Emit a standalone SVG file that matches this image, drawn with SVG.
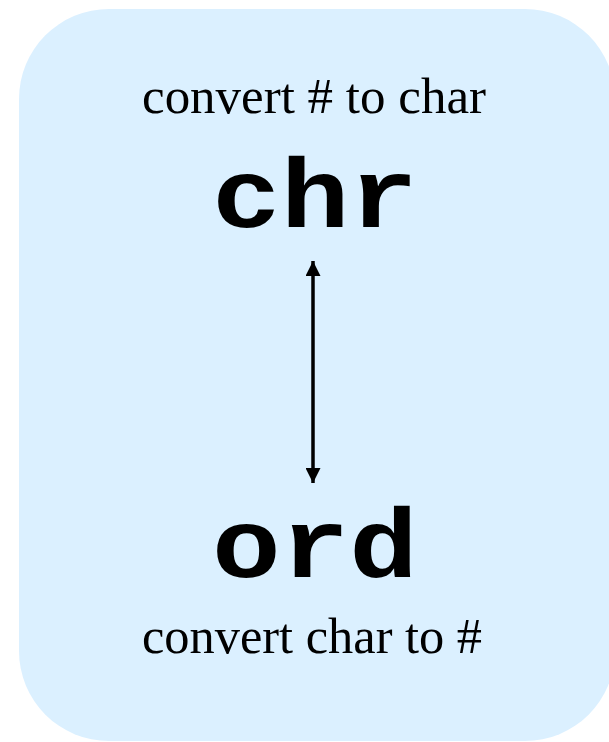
<svg xmlns="http://www.w3.org/2000/svg" width="609" height="742" viewBox="0 0 609 742">
<style>
.lbl{font-family:"Liberation Serif","Times New Roman",serif;font-size:50px;fill:#000;text-anchor:middle}
.code{font-family:"Liberation Mono","Courier New",monospace;font-weight:bold;font-size:98px;fill:#000;text-anchor:middle}
.conn{stroke:#000;stroke-width:3.5;fill:none}
</style>
<defs>
<marker id="ah" viewBox="0 0 10 10" refX="10" refY="5" markerWidth="15" markerHeight="15" markerUnits="userSpaceOnUse" orient="auto-start-reverse">
<path d="M0,0 L10,5 L0,10 Z" fill="#000"/>
</marker>
</defs>
<g id="panel">
<rect x="19" y="9" width="596" height="732" rx="90" ry="90" fill="#dbf0ff"/>
</g>
<g id="chr">
<text class="lbl" x="314" y="113" textLength="344" lengthAdjust="spacingAndGlyphs">convert # to char</text>
<text class="code" x="315" y="227" textLength="206" lengthAdjust="spacingAndGlyphs">chr</text>
</g>
<g id="ord">
<text class="code" x="315" y="577" textLength="206" lengthAdjust="spacingAndGlyphs">ord</text>
<text class="lbl" x="312" y="653" textLength="340" lengthAdjust="spacingAndGlyphs">convert char to #</text>
</g>
<g id="connectors">
<line class="conn" x1="313" y1="261" x2="313" y2="483" marker-start="url(#ah)" marker-end="url(#ah)"/>
</g>
</svg>
